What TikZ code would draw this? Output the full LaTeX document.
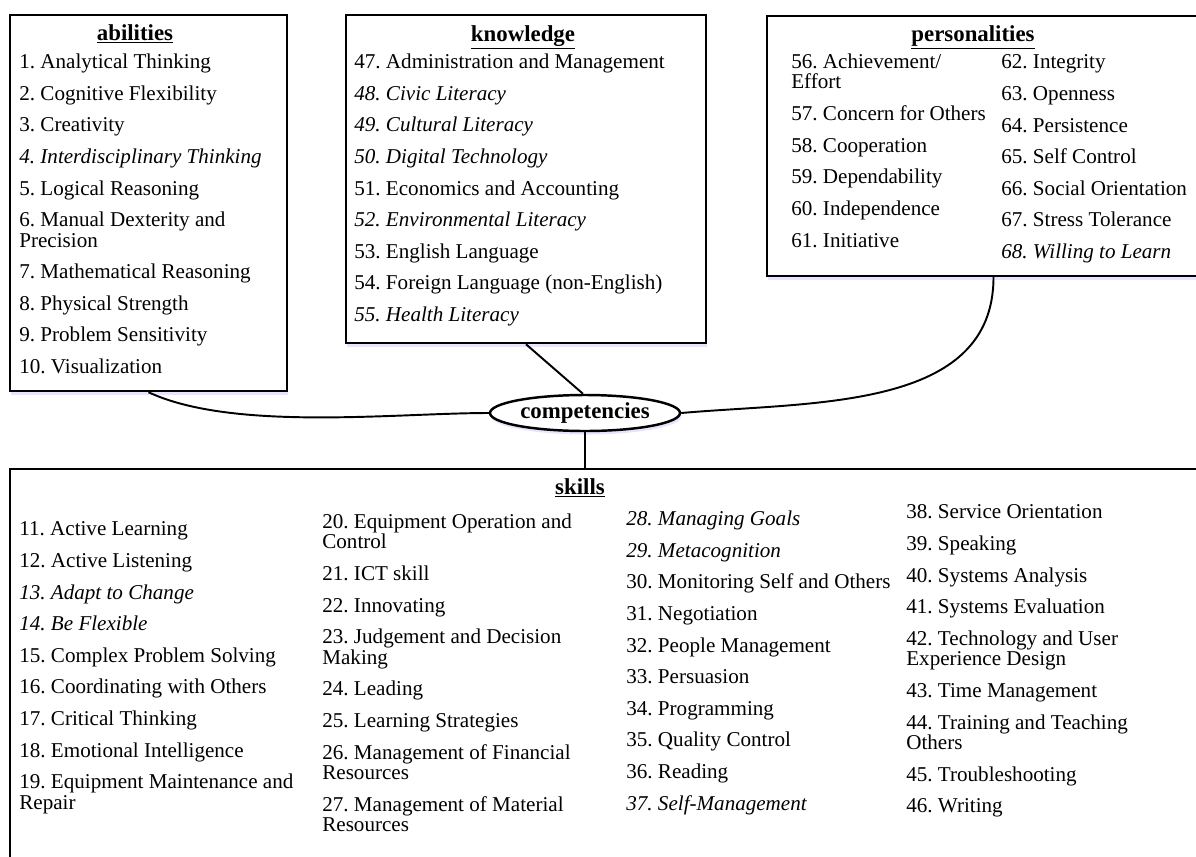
\documentclass[tikz,border=0pt]{standalone}
\usepackage{fontspec}
\setmainfont{Liberation Serif}
\usetikzlibrary{positioning, shapes.geometric, shadows}
\newcommand{\nx}{\\[6.4pt]}
\frenchspacing

\begin{document}
\begin{tikzpicture}[
      grp/.style={rectangle, draw, line width=1.4pt, fill=white, inner sep=0pt,
        drop shadow={shadow xshift=0.8pt, shadow yshift=-2pt, fill=blue!25,
        opacity=0.4}},
      ttl/.style={anchor=base, inner sep=0pt,
        font=\fontsize{13}{15}\selectfont\bfseries},
      lst/.style={anchor=north west, align=left, inner sep=0pt,
        font=\fontsize{12}{11.6}\selectfont},
      hub/.style={ellipse, draw, line width=1.4pt, fill=white, inner sep=0pt,
        minimum width=3.8cm, minimum height=0.72cm,
        font=\fontsize{13}{15}\selectfont\bfseries,
        drop shadow={shadow xshift=0.8pt, shadow yshift=-2pt, fill=blue!25,
        opacity=0.4}},
      con/.style={draw, line width=1.1pt}
    ]
    \clip[use as bounding box] (0,0) rectangle (23.92,-17.14);
    % === Boxes ===
    \node[grp, minimum width=5.54cm, minimum height=7.52cm] (abl) at (2.97,-4.06) {};
    \node[grp, minimum width=7.20cm, minimum height=6.56cm] (kno) at (10.52,-3.58) {};
    \node[grp, minimum width=9.06cm, minimum height=5.20cm] (per) at (19.87,-2.92) {};
    \node[grp, minimum width=24.4cm, minimum height=8.62cm] (skl) at (12.40,-13.69) {};
    % === Titles ===
    \node[ttl] (ablt) at (2.70,-0.80) {\underline{abilities}};
    \node[ttl] (knot) at (10.46,-0.82) {\underline{knowledge}};
    \node[ttl] (pert) at (19.46,-0.82) {\underline{personalities}};
    \node[ttl] (sklt) at (11.60,-9.88) {\underline{skills}};
    % === abilities ===
    \node[lst] (abl1) at (0.38,-1.07) {1. Analytical Thinking\nx
      2. Cognitive Flexibility\nx
      3. Creativity\nx
      \textit{4. Interdisciplinary Thinking}\nx
      5. Logical Reasoning\nx
      6. Manual Dexterity and\\Precision\nx
      7. Mathematical Reasoning\nx
      8. Physical Strength\nx
      9. Problem Sensitivity\nx
      10. Visualization};
    % === knowledge ===
    \node[lst] (kno1) at (7.08,-1.07) {47. Administration and Management\nx
      \textit{48. Civic Literacy}\nx
      \textit{49. Cultural Literacy}\nx
      \textit{50. Digital Technology}\nx
      51. Economics and Accounting\nx
      \textit{52. Environmental Literacy}\nx
      53. English Language\nx
      54. Foreign Language (non-English)\nx
      \textit{55. Health Literacy}};
    % === personalities ===
    \node[lst] (per1) at (15.82,-1.07) {56. Achievement/\\Effort\nx
      57. Concern for Others\nx
      58. Cooperation\nx
      59. Dependability\nx
      60. Independence\nx
      61. Initiative};
    \node[lst] (per2) at (20.02,-1.09) {62. Integrity\nx
      63. Openness\nx
      64. Persistence\nx
      65. Self Control\nx
      66. Social Orientation\nx
      67. Stress Tolerance\nx
      \textit{68. Willing to Learn}};
    % === skills ===
    \node[lst] (skl1) at (0.38,-10.43) {11. Active Learning\nx
      12. Active Listening\nx
      \textit{13. Adapt to Change}\nx
      \textit{14. Be Flexible}\nx
      15. Complex Problem Solving\nx
      16. Coordinating with Others\nx
      17. Critical Thinking\nx
      18. Emotional Intelligence\nx
      19. Equipment Maintenance and\\Repair};
    \node[lst] (skl2) at (6.44,-10.27) {20. Equipment Operation and\\Control\nx
      21. ICT skill\nx
      22. Innovating\nx
      23. Judgement and Decision\\Making\nx
      24. Leading\nx
      25. Learning Strategies\nx
      26. Management of Financial\\Resources\nx
      27. Management of Material\\Resources};
    \node[lst] (skl3) at (12.52,-10.21) {\textit{28. Managing Goals}\nx
      \textit{29. Metacognition}\nx
      30. Monitoring Self and Others\nx
      31. Negotiation\nx
      32. People Management\nx
      33. Persuasion\nx
      34. Programming\nx
      35. Quality Control\nx
      36. Reading\nx
      \textit{37. Self-Management}};
    \node[lst] (skl4) at (18.12,-10.09) {38. Service Orientation\nx
      39. Speaking\nx
      40. Systems Analysis\nx
      41. Systems Evaluation\nx
      42. Technology and User\\Experience Design\nx
      43. Time Management\nx
      44. Training and Teaching\\Others\nx
      45. Troubleshooting\nx
      46. Writing};
    % === Hub and links ===
    \node[hub] (cmp) at (11.70,-8.26) {competencies};
    \draw[con] (abl.south) to[out=-25, in=180, looseness=0.7] (cmp.west);
    \draw[con] (kno.south) -- (cmp.96);
    \draw[con] (per.south) to[out=-90, in=5] (cmp.east);
    \draw[con] (cmp.south) -- (cmp.south |- skl.north);
  \end{tikzpicture}
\end{document}
